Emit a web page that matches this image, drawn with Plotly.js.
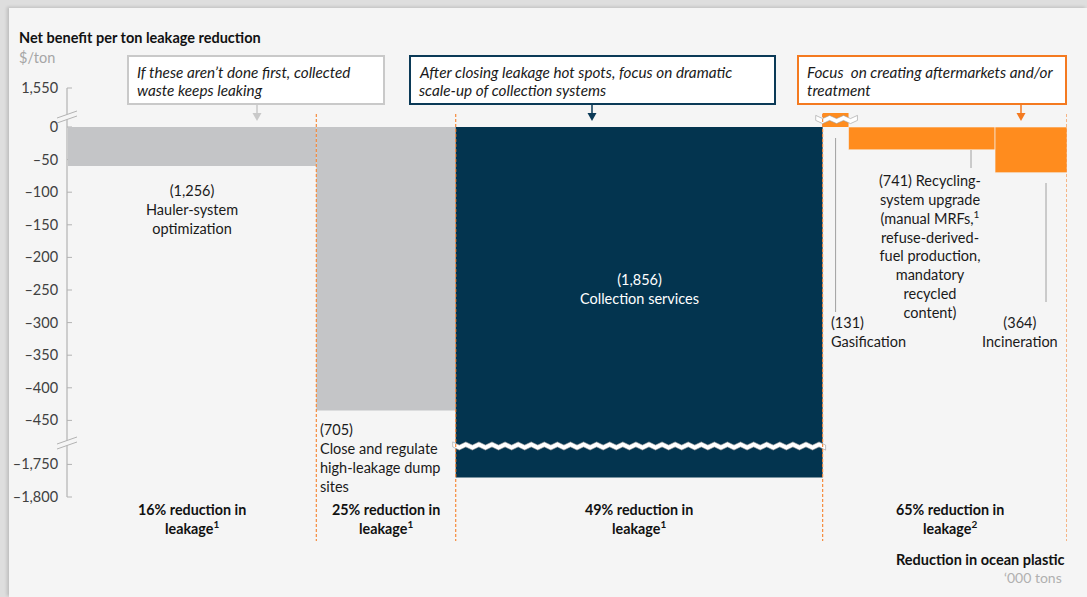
<!DOCTYPE html>
<html><head><meta charset="utf-8">
<script src="https://cdn.plot.ly/plotly-3.0.1.min.js"></script>
<style>
html,body{margin:0;padding:0;width:1087px;height:597px;overflow:hidden;background:#dedede;}
#chart{position:absolute;left:9px;top:8px;width:1078px;height:589px;box-shadow:-2px -1px 3px rgba(0,0,0,0.15);}
</style></head><body><div id="chart"></div>
<script>
// ---------- data ----------
const categories = ['Hauler-system optimization', 'Close and regulate high-leakage dump sites', 'Collection services', 'Gasification', 'Recycling-system upgrade', 'Incineration'];
const volumes = [1256, 705, 1856, 131, 741, 364];           // '000 tons reduction in ocean plastic
const netBenefit = [-60, -435, -1770, 1550, -35, -70];       // $/ton
const barNames = ['Hauler-system<br>optimization', 'Close and regulate<br>high-leakage dump<br>sites', 'Collection services', 'Gasification', 'Recycling-<br>system upgrade<br>(manual MRFs,<sup>1</sup><br>refuse-derived-<br>fuel production,<br>mandatory<br>recycled<br>content)', 'Incineration'];
const yTicks = [1550, 0, -50, -100, -150, -200, -250, -300, -350, -400, -450, -1750, -1800];
const phaseBars = [[0], [1], [2], [3, 4, 5]];
const phaseLabels = ['16% reduction in<br>leakage<sup>1</sup>', '25% reduction in<br>leakage<sup>1</sup>', '49% reduction in<br>leakage<sup>1</sup>', '65% reduction in<br>leakage<sup>2</sup>'];
const callouts = [['If these aren’t done first, collected', 'waste keeps leaking'], ['After closing leakage hot spots, focus on dramatic', 'scale-up of collection systems'], ['Focus  on creating aftermarkets and/or', 'treatment']];

// ---------- style / geometry ----------
const FONT = 'Lato, "Open Sans", sans-serif';
const GRAY = '#c4c5c7', NAVY = '#03344f', ORANGE = '#ff8c1e', ORANGE_LINE = '#f47a20', DASH = '#f58a3c';
const barColors = [GRAY, GRAY, NAVY, ORANGE, ORANGE, ORANGE];
const PLOT_L = 68, PLOT_R = 1067, PLOT_T = 60, PLOT_B = 560, Y0PX = 127, PXPU = 32.6 / 50;
const xMax = volumes.reduce((a, b) => a + b, 0);
const LOW_HI = -450, LOW_LO = -1750, LOW_GAP = 67.5, UP_TICK = 1550, UP_DISP = 59.8, STUB = 21.5;
function disp(v) { if (v <= LOW_LO) return v - LOW_LO + LOW_HI - LOW_GAP; if (v >= UP_TICK) return v - UP_TICK + UP_DISP; return v; }
function barDisp(v) { return v >= UP_TICK ? STUB : disp(v); }
const pX = X => (X - PLOT_L) / (PLOT_R - PLOT_L);
const pY = Y => (PLOT_B - Y) / (PLOT_B - PLOT_T);
const dX = X => (X - PLOT_L) / (PLOT_R - PLOT_L) * xMax;
const dY = Y => (Y0PX - Y) / PXPU;
const xPx = x => PLOT_L + x / xMax * (PLOT_R - PLOT_L);
const fmt = v => (v < 0 ? '\u2013' : '') + Math.abs(v).toLocaleString('en-US');

const starts = []; let acc = 0; volumes.forEach(v => { starts.push(acc); acc += v; });
const centers = volumes.map((v, i) => starts[i] + v / 2);

const trace = {
  type: 'bar', x: centers, y: netBenefit.map(barDisp), width: volumes, base: 0,
  marker: { color: barColors, line: { width: [0, 0, 0, 0, 0.6, 0.6], color: '#f5f5f5' } },
  hoverinfo: 'none', cliponaxis: false, text: categories, textposition: 'none'
};

const shapes = [], annotations = [];
// y axis line
shapes.push({ type: 'line', xref: 'paper', yref: 'y', x0: pX(67), x1: pX(67), y0: disp(yTicks[0]), y1: disp(yTicks[yTicks.length - 1]), line: { color: '#b3b3b3', width: 1.2 } });
yTicks.forEach(t => {
  shapes.push({ type: 'line', xref: 'paper', yref: 'y', x0: pX(67), x1: pX(72), y0: disp(t), y1: disp(t), line: { color: '#b3b3b3', width: 1 }, layer: 'below' });
});
// axis breaks
function axisBreak(Yc) {
  const a = [57, Yc + 1], b = [77, Yc - 6], c = [77, Yc - 1], d = [57, Yc + 6];
  shapes.push({ type: 'path', xref: 'paper', yref: 'paper', path: `M${pX(a[0])},${pY(a[1])} L${pX(b[0])},${pY(b[1])} L${pX(c[0])},${pY(c[1])} L${pX(d[0])},${pY(d[1])} Z`, fillcolor: '#f5f5f5', line: { width: 0 } });
  shapes.push({ type: 'line', xref: 'paper', yref: 'paper', x0: pX(a[0]), y0: pY(a[1]), x1: pX(b[0]), y1: pY(b[1]), line: { color: '#b3b3b3', width: 1 } });
  shapes.push({ type: 'line', xref: 'paper', yref: 'paper', x0: pX(d[0]), y0: pY(d[1]), x1: pX(c[0]), y1: pY(c[1]), line: { color: '#b3b3b3', width: 1 } });
}
axisBreak(117);
axisBreak(443);
// zigzag breaks across bars
function zigzag(x0, x1, Yc, amp, period, thick) {
  const n = Math.round((xPx(x1) - xPx(x0)) / (period / 2));
  const top = [], bot = [];
  for (let i = 0; i <= n; i++) {
    const X = xPx(x0) + i * (xPx(x1) - xPx(x0)) / n;
    const o = (i % 2 ? amp : -amp);
    top.push([dX(X), dY(Yc - thick / 2 + o)]);
    bot.push([dX(X), dY(Yc + thick / 2 + o)]);
  }
  let p = 'M' + top.map(q => q[0] + ',' + q[1]).join(' L');
  p += ' L' + bot.reverse().map(q => q[0] + ',' + q[1]).join(' L') + ' Z';
  shapes.push({ type: 'path', xref: 'x', yref: 'y', path: p, fillcolor: '#ffffff', line: { color: '#9a9a9a', width: 0.6 } });
}
zigzag(starts[2] - 15, starts[2] + volumes[2] + 15, 446, 1.6, 13, 5);
zigzag(starts[3] - 35, starts[3] + volumes[3] + 45, 119.5, 1.6, 13, 5);
// dashed phase separators
const bounds = phaseBars.map(g => starts[g[g.length - 1]] + volumes[g[g.length - 1]]);
bounds.forEach(b => {
  shapes.push({ type: 'line', xref: 'x', yref: 'paper', x0: b, x1: b, y0: pY(114), y1: pY(541), line: { color: DASH, width: 1.2, dash: '3px,2px' } });
});
// leader lines
[[xPx(centers[3]), 138, 312], [971, 150, 168], [1046, 183, 302]].forEach(l => {
  shapes.push({ type: 'line', xref: 'paper', yref: 'paper', x0: pX(l[0]), x1: pX(l[0]), y0: pY(l[1]), y1: pY(l[2]), line: { color: '#a0a0a0', width: 1 } });
});

function ann(x, xref, Y, text, xanchor, align, font) {
  annotations.push({ xref: xref, yref: 'paper', x: x, y: pY(Y), text: text, showarrow: false, xanchor: xanchor, yanchor: 'middle', align: align, font: Object.assign({ family: FONT, size: 14.5, color: '#1a1a1a' }, font || {}) });
}
// callout boxes
const boxes = [[128, 384, '#c9c9c9', 257], [410, 775, '#0b3a57', 592], [798, 1066, ORANGE_LINE, 1021]];
boxes.forEach((b, i) => {
  shapes.push({ type: 'rect', xref: 'paper', yref: 'paper', x0: pX(b[0]), x1: pX(b[1]), y0: pY(56), y1: pY(104), fillcolor: '#ffffff', line: { color: b[2], width: 2 } });
  shapes.push({ type: 'line', xref: 'paper', yref: 'paper', x0: pX(b[3]), x1: pX(b[3]), y0: pY(105), y1: pY(114), line: { color: b[2], width: 1.5 } });
  shapes.push({ type: 'path', xref: 'paper', yref: 'paper', path: `M${pX(b[3] - 4.5)},${pY(113)} L${pX(b[3] + 4.5)},${pY(113)} L${pX(b[3])},${pY(121)} Z`, fillcolor: b[2], line: { width: 0 } });
  callouts[i].forEach((line, k) => ann(pX(b[0] + 7), 'paper', 72 + k * 18, '<i>' + line + '</i>', 'left', 'left', { size: 15.3 }));
});

// titles
ann(pX(17), 'paper', 38, '<b>Net benefit per ton leakage reduction</b>', 'left', 'left', { size: 14.5, color: '#111' });
ann(pX(17), 'paper', 57, '$/ton', 'left', 'left', { size: 14.5, color: '#a6a6a6' });
ann(pX(1067), 'paper', 559, '<b>Reduction in ocean plastic</b>', 'right', 'right', { size: 14.5, color: '#111' });
ann(pX(1064), 'paper', 577, '‘000 tons', 'right', 'right', { size: 14, color: '#b0b0b0' });
// bar labels
const lbl = i => '(' + volumes[i].toLocaleString('en-US') + ')' + (i === 4 ? ' ' : '<br>') + barNames[i];
ann(centers[0], 'x', 209, lbl(0), 'center', 'center');
ann(pX(318), 'paper', 458, lbl(1), 'left', 'left');
ann(centers[2], 'x', 289, lbl(2), 'center', 'center', { color: '#ffffff' });
ann(pX(829), 'paper', 332, lbl(3), 'left', 'left');
ann(pX(930), 'paper', 246, lbl(4), 'center', 'center');
ann(pX(1020), 'paper', 332, lbl(5), 'center', 'center');
// phase labels
phaseBars.forEach((g, i) => {
  const s = starts[g[0]], e = bounds[i];
  ann((s + e) / 2 + (i === 3 ? 25 : 0), 'x', 519, '<b>' + phaseLabels[i] + '</b>', 'center', 'center', { size: 14.3, color: '#111' });
});

const layout = {
  width: 1078, height: 589,
  margin: { l: PLOT_L - 9, r: 1078 - (PLOT_R - 9), t: PLOT_T - 8, b: 589 - (PLOT_B - 8) },
  paper_bgcolor: '#f5f5f5', plot_bgcolor: 'rgba(0,0,0,0)',
  showlegend: false,
  xaxis: { range: [0, xMax], visible: false, fixedrange: true },
  yaxis: {
    range: [dY(PLOT_B), dY(PLOT_T)], showgrid: false, zeroline: false, showline: false,
    tickvals: yTicks.map(disp), ticktext: yTicks.map(fmt), ticks: 'outside', ticklen: 6, tickcolor: 'rgba(0,0,0,0)',
    tickfont: { family: FONT, size: 14.5, color: '#404040' }, fixedrange: true
  },
  shapes: shapes, annotations: annotations
};
Plotly.newPlot('chart', [trace], layout, { displayModeBar: false, staticPlot: true });
</script></body></html>
